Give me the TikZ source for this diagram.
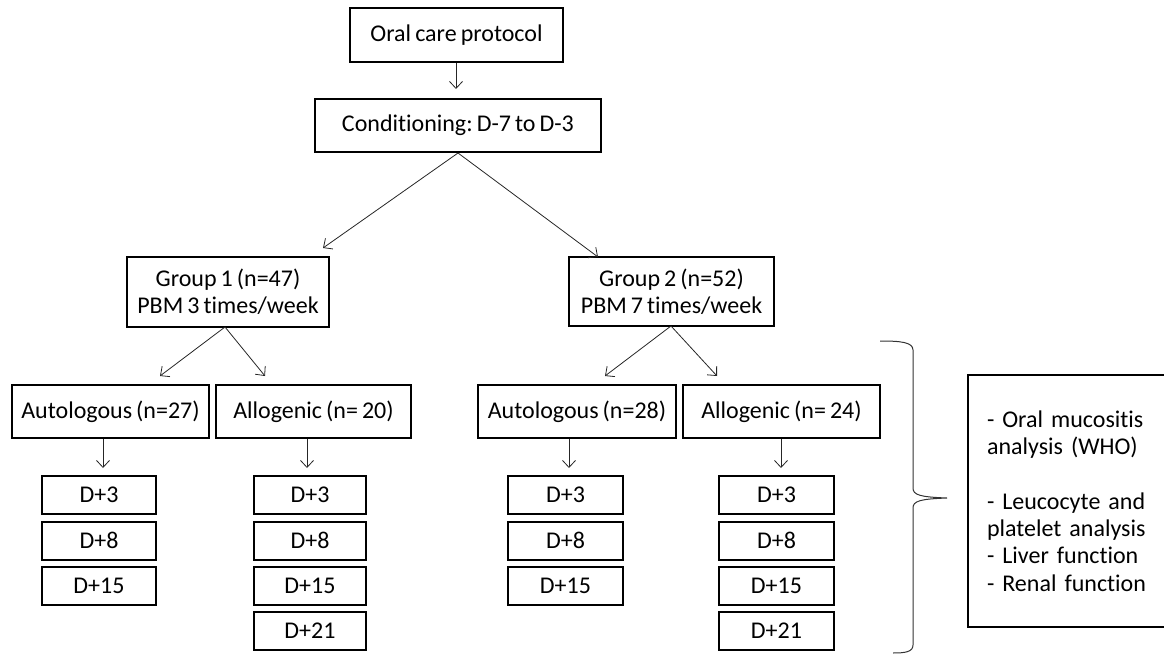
\documentclass[tikz,border=0pt]{standalone}
\usepackage{fontspec}
\setmainfont{Carlito}[Ligatures=NoCommon, WordSpace=0.75]
\frenchspacing
\usetikzlibrary{arrows.meta}
\begin{document}
\begin{tikzpicture}[x=1pt,y=-1pt,
  box/.style={draw, line width=2pt, inner sep=0pt, font=\fontsize{24}{27.3}\selectfont, align=center},
  dbox/.style={box, minimum height=38pt},
  arr/.style={-{Straight Barb[length=7pt,width=13pt]}, line width=0.8pt, draw=black!85},
  bracestyle/.style={line width=1pt, draw=black!80}]
\useasboundingbox (0,0) rectangle (1164,655);
% top
\node[box, minimum width=213pt, minimum height=54pt] (oral) at (456.5,35) {Oral care protocol};
\node[box, minimum width=286pt, minimum height=53pt] (cond) at (458,125.5) {Conditioning: D-7 to D-3};
% groups
\node[box, minimum width=202pt, minimum height=70pt] (g1) at (228,292) {Group 1 (n=47)\\ PBM 3 times/week};
\node[box, minimum width=205pt, minimum height=69pt] (g2) at (671.5,291.5) {Group 2 (n=52)\\ PBM 7 times/week};
% subgroups
\node[box, minimum width=197pt, minimum height=53pt] (a1) at (110.5,411.5) {Autologous (n=27)};
\node[box, minimum width=195pt, minimum height=53pt] (b1) at (313.5,411.5) {Allogenic (n= 20)};
\node[box, minimum width=198pt, minimum height=53pt] (a2) at (577,411.5) {Autologous (n=28)};
\node[box, minimum width=197pt, minimum height=53pt] (b2) at (781.5,411.5) {Allogenic (n= 24)};
% day boxes
\node[dbox, minimum width=114pt] (a1d3) at (99,495) {D+3};
\node[dbox, minimum width=114pt] (a1d8) at (99,540.5) {D+8};
\node[dbox, minimum width=114pt] (a1d15) at (99,585.5) {D+15};
\node[dbox, minimum width=112pt] (b1d3) at (310,495) {D+3};
\node[dbox, minimum width=112pt] (b1d8) at (310,540.5) {D+8};
\node[dbox, minimum width=112pt] (b1d15) at (310,585.5) {D+15};
\node[dbox, minimum width=112pt] (b1d21) at (310,630.5) {D+21};
\node[dbox, minimum width=115pt] (a2d3) at (565.5,495) {D+3};
\node[dbox, minimum width=115pt] (a2d8) at (565.5,540.5) {D+8};
\node[dbox, minimum width=115pt] (a2d15) at (565.5,585.5) {D+15};
\node[dbox, minimum width=115pt] (b2d3) at (776.5,495) {D+3};
\node[dbox, minimum width=115pt] (b2d8) at (776.5,540.5) {D+8};
\node[dbox, minimum width=115pt] (b2d15) at (776.5,585.5) {D+15};
\node[dbox, minimum width=115pt] (b2d21) at (776.5,630.5) {D+21};
% info box
\node[box, minimum width=207pt, minimum height=252pt, text width=169pt, align=left] (info) at (1071.5,501)
  {- Oral mucositis\\ analysis (WHO)\\[27.3pt] - Leucocyte and\\ platelet analysis\\ - Liver function\\ - Renal function};
% arrow endpoints
\coordinate (condin) at (456,89);
\coordinate (g1out) at (225,327);
\coordinate (g2out) at (671,326);
\coordinate (g1in) at (323,248);
\coordinate (g2in) at (598,257);
\coordinate (a1in) at (160,376);
\coordinate (b1in) at (265,376);
\coordinate (a2in) at (605,376);
\coordinate (b2in) at (717,376);
\coordinate (a1o) at (103,439);
\coordinate (b1o) at (307,439);
\coordinate (a2o) at (569,439);
\coordinate (b2o) at (781,439);
\coordinate (a1e) at (103,468);
\coordinate (b1e) at (307,468);
\coordinate (a2e) at (569,468);
\coordinate (b2e) at (781,468);
% arrows
\draw[arr] (oral.south -| condin) -- (condin);
\draw[arr] (cond.south) -- (g1in);
\draw[arr] (cond.south) -- (g2in);
\draw[arr] (g1out) -- (a1in);
\draw[arr] (g1out) -- (b1in);
\draw[arr] (g2out) -- (a2in);
\draw[arr] (g2out) -- (b2in);
\draw[arr] (a1o) -- (a1e);
\draw[arr] (b1o) -- (b1e);
\draw[arr] (a2o) -- (a2e);
\draw[arr] (b2o) -- (b2e);
% brace
\coordinate (brtip) at (947,498);
\draw[bracestyle] (880,341) .. controls (900,341) and (913,342) .. (913,350)
  -- (913,488) .. controls (913,495) and (920,497) .. (brtip)
  .. controls (920,499) and (913,501) .. (913,508)
  -- (913,645) .. controls (913,652) and (905,653) .. (893,653);
\end{tikzpicture}
\end{document}
